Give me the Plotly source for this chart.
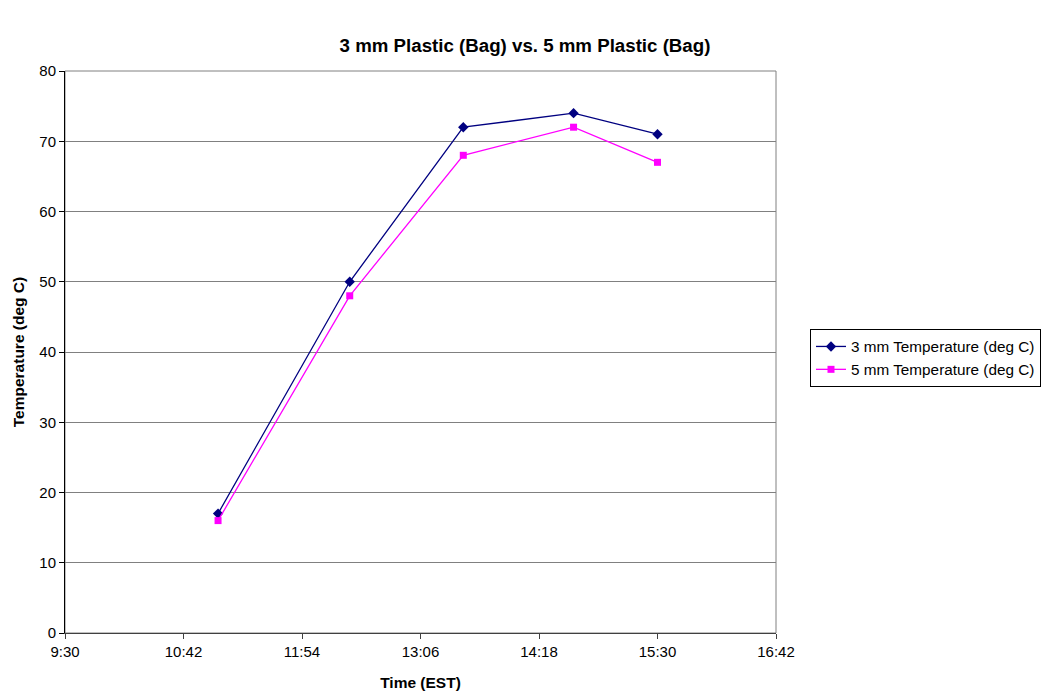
import plotly.graph_objects as go

times = ["2000-01-01 11:03", "2000-01-01 12:23", "2000-01-01 13:32", "2000-01-01 14:39", "2000-01-01 15:30"]
temp_3mm = [17, 50, 72, 74, 71]
temp_5mm = [16, 48, 68, 72, 67]

font = "Liberation Sans, Arial, sans-serif"

fig = go.Figure()
fig.add_trace(go.Scatter(x=times, y=temp_3mm, mode="lines+markers", name="3 mm Temperature (deg C)",
                         line=dict(color="#000080", width=1.3),
                         marker=dict(symbol="diamond", size=8, color="#000080")))
fig.add_trace(go.Scatter(x=times, y=temp_5mm, mode="lines+markers", name="5 mm Temperature (deg C)",
                         line=dict(color="#FF00FF", width=1.3),
                         marker=dict(symbol="square", size=7, color="#FF00FF")))

fig.update_layout(
    width=1050, height=694,
    paper_bgcolor="white", plot_bgcolor="white",
    margin=dict(l=65, r=274, t=71, b=61, autoexpand=False),
    font=dict(family=font, size=15, color="black"),
    title=dict(text="<b>3 mm Plastic (Bag) vs. 5 mm Plastic (Bag)</b>", x=0.5, xanchor="center",
               y=1 - 45 / 694, yanchor="middle", font=dict(size=18.7)),
    legend=dict(x=(810 - 65) / (776 - 65), y=(633 - 329) / (633 - 71), xref="paper", yref="paper",
                xanchor="left", yanchor="top",
                bordercolor="#000000", borderwidth=1, font=dict(size=15.3), tracegroupgap=0),
    showlegend=True,
)

fig.update_xaxes(
    type="date", range=["2000-01-01 09:30", "2000-01-01 16:42"],
    tick0="2000-01-01 09:30", dtick=72 * 60 * 1000, tickformat="%-H:%M",
    showgrid=False, showline=True, linecolor="#404040", linewidth=1, mirror=False,
    ticks="outside", ticklen=5, tickcolor="#404040",
    title=dict(text="<b>Time (EST)</b>", font=dict(size=15.5), standoff=18),
    zeroline=False, automargin=False,
)
fig.update_yaxes(
    range=[0, 80], dtick=10, showgrid=True, gridcolor="#808080", gridwidth=1,
    showline=True, linecolor="black", linewidth=1,
    ticks="outside", ticklen=5, tickcolor="black",
    title=dict(text="<b>Temperature (deg C)</b>", font=dict(size=15.5), standoff=10),
    zeroline=False, automargin=False,
)
fig.add_shape(type="rect", xref="paper", yref="paper", x0=0, y0=0, x1=1, y1=1,
              line=dict(color="#808080", width=1), layer="below")

fig.write_html("out.html")
